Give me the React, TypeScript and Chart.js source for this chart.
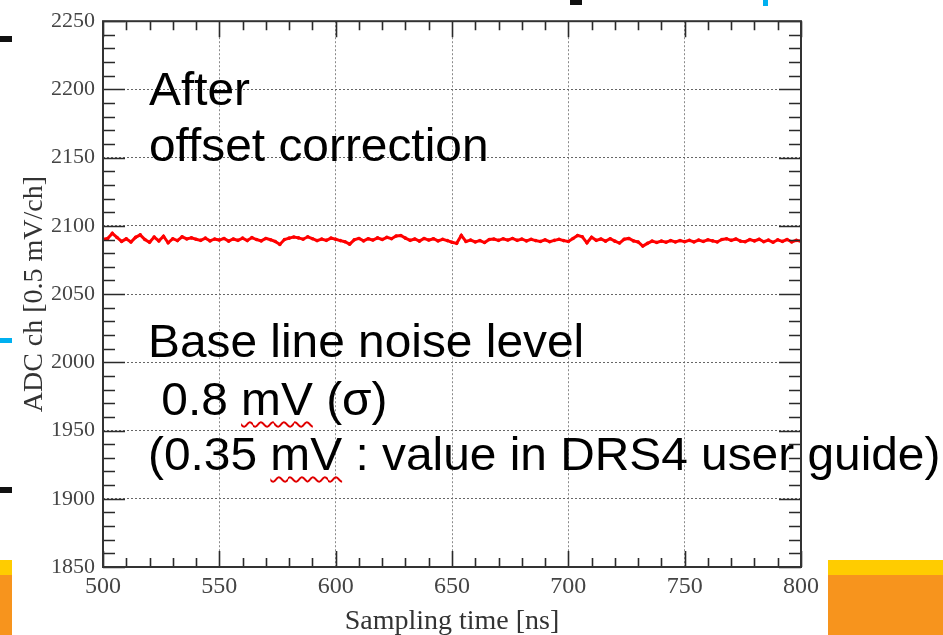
import { useEffect, useRef } from "react";
import { Chart, registerables } from "chart.js";

Chart.register(...registerables);

// Sampling times [ns]
const sampleTimes = [
  500, 502, 504, 506, 508, 510, 512, 514, 516, 518,
  520, 522, 524, 526, 528, 530, 532, 534, 536, 538,
  540, 542, 544, 546, 548, 550, 552, 554, 556, 558,
  560, 562, 564, 566, 568, 570, 572, 574, 576, 578,
  580, 582, 584, 586, 588, 590, 592, 594, 596, 598,
  600, 602, 604, 606, 608, 610, 612, 614, 616, 618,
  620, 622, 624, 626, 628, 630, 632, 634, 636, 638,
  640, 642, 644, 646, 648, 650, 652, 654, 656, 658,
  660, 662, 664, 666, 668, 670, 672, 674, 676, 678,
  680, 682, 684, 686, 688, 690, 692, 694, 696, 698,
  700, 702, 704, 706, 708, 710, 712, 714, 716, 718,
  720, 722, 724, 726, 728, 730, 732, 734, 736, 738,
  740, 742, 744, 746, 748, 750, 752, 754, 756, 758,
  760, 762, 764, 766, 768, 770, 772, 774, 776, 778,
  780, 782, 784, 786, 788, 790, 792, 794, 796, 798,
  800,
];

// ADC values after offset correction
const adcValues = [
  2090.2, 2090.8, 2094.5, 2091.5, 2088.6, 2090.5, 2088.2, 2091.6, 2093.4, 2090.0,
  2088.0, 2091.8, 2089.0, 2092.4, 2087.6, 2090.6, 2089.2, 2092.0, 2090.4, 2091.2,
  2090.2, 2089.4, 2091.0, 2089.0, 2090.4, 2089.6, 2090.8, 2088.8, 2090.4, 2089.4,
  2091.0, 2089.2, 2091.4, 2090.0, 2089.0, 2090.8, 2089.8, 2088.6, 2086.4, 2090.0,
  2091.0, 2091.8, 2091.2, 2090.2, 2092.0, 2090.6, 2089.2, 2090.4, 2089.4, 2091.0,
  2090.2, 2089.2, 2088.4, 2086.6, 2089.8, 2090.8, 2089.0, 2090.6, 2089.6, 2091.2,
  2090.0, 2091.6, 2090.6, 2092.6, 2093.0, 2091.0, 2089.4, 2090.4, 2088.8, 2090.8,
  2089.6, 2090.6, 2089.0, 2090.2, 2089.2, 2088.0, 2087.2, 2093.0, 2088.6, 2089.6,
  2088.2, 2089.2, 2087.8, 2090.0, 2090.4, 2089.4, 2090.6, 2089.6, 2090.8, 2089.4,
  2090.4, 2089.0, 2090.2, 2089.2, 2088.6, 2089.8, 2088.4, 2089.4, 2090.2, 2089.2,
  2088.6, 2090.8, 2093.0, 2092.0, 2087.6, 2091.6, 2089.4, 2090.4, 2088.8, 2090.6,
  2088.8, 2087.4, 2090.2, 2090.8, 2089.0, 2088.2, 2085.2, 2087.2, 2088.8, 2087.8,
  2088.8, 2088.0, 2089.2, 2088.2, 2089.2, 2088.4, 2089.4, 2088.2, 2089.6, 2088.6,
  2089.8, 2089.0, 2088.2, 2090.0, 2090.6, 2089.4, 2090.4, 2088.8, 2088.4, 2090.0,
  2089.0, 2090.2, 2088.4, 2089.6, 2088.0, 2089.8, 2088.6, 2090.0, 2088.2, 2089.4,
  2088.8,
];

const xTickValues = [500, 550, 600, 650, 700, 750, 800];
const yTickValues = [1850, 1900, 1950, 2000, 2050, 2100, 2150, 2200, 2250];
const minorDivisions = 5;

const xTitle = "Sampling time [ns]";
const yTitle = "ADC ch [0.5 mV/ch]";

const noteTopLines = ["After", "offset correction"];
const noteLine1 = "Base line noise level";
const noteLine2 = [" 0.8 ", "mV", " (σ)"];
const noteLine3 = ["(0.35 ", "mV", " : value in DRS4 user guide)"];

const innerTicks = {
  id: "innerTicks",
  afterDraw(chart: any) {
    const { ctx, chartArea } = chart;
    const { left, right, top, bottom } = chartArea;
    const xs = chart.scales.x;
    const ys = chart.scales.y;
    ctx.save();
    ctx.strokeStyle = "#2a2a2a";
    ctx.lineWidth = 1.6;
    const drawX = (v: number, len: number) => {
      const p = Math.round(xs.getPixelForValue(v)) + 0.5;
      ctx.beginPath();
      ctx.moveTo(p, bottom);
      ctx.lineTo(p, bottom - len);
      ctx.moveTo(p, top);
      ctx.lineTo(p, top + len);
      ctx.stroke();
    };
    const drawY = (v: number, len: number) => {
      const p = Math.round(ys.getPixelForValue(v)) + 0.5;
      ctx.beginPath();
      ctx.moveTo(left, p);
      ctx.lineTo(left + len, p);
      ctx.moveTo(right, p);
      ctx.lineTo(right - len, p);
      ctx.stroke();
    };
    for (let i = 0; i < xTickValues.length; i++) {
      drawX(xTickValues[i], 16);
      if (i < xTickValues.length - 1) {
        const step = (xTickValues[i + 1] - xTickValues[i]) / minorDivisions;
        for (let k = 1; k < minorDivisions; k++) drawX(xTickValues[i] + k * step, 9);
      }
    }
    for (let i = 0; i < yTickValues.length; i++) {
      drawY(yTickValues[i], 22);
      if (i < yTickValues.length - 1) {
        const step = (yTickValues[i + 1] - yTickValues[i]) / minorDivisions;
        for (let k = 1; k < minorDivisions; k++) drawY(yTickValues[i] + k * step, 12);
      }
    }
    ctx.lineWidth = 2;
    ctx.strokeStyle = "#333";
    ctx.strokeRect(left, top, right - left, bottom - top);
    ctx.restore();
  },
};

function ChartCanvas() {
  const ref = useRef<HTMLCanvasElement | null>(null);
  useEffect(() => {
    if (!ref.current) return;
    const chart = new Chart(ref.current, {
      type: "line",
      data: {
        datasets: [
          {
            data: sampleTimes.map((t, i) => ({ x: t, y: adcValues[i] })),
            borderColor: "#ff0000",
            backgroundColor: "#ff0000",
            borderWidth: 3,
            pointRadius: 1.8,
            pointBorderWidth: 0,
            tension: 0,
          },
        ],
      },
      options: {
        animation: false,
        responsive: false,
        devicePixelRatio: 1,
        layout: { padding: { top: 15, right: 142, left: 0, bottom: 0 } },
        plugins: { legend: { display: false }, tooltip: { enabled: false } },
        scales: {
          x: {
            type: "linear",
            min: 500,
            max: 800,
            afterFit(scale: any) {
              scale.height = 68;
            },
            afterBuildTicks(scale: any) {
              scale.ticks = xTickValues.map((v) => ({ value: v }));
            },
            ticks: {
              padding: 5,
              maxRotation: 0,
              autoSkip: false,
              color: "#444",
              font: { family: "'Liberation Serif', serif", size: 24 },
              callback: (v: any) => String(v),
            },
            grid: { color: "#8a8a8a", lineWidth: 1, drawTicks: false },
            border: { display: false, dash: [2, 2] },
            title: {
              display: true,
              text: xTitle,
              color: "#333",
              font: { family: "'Liberation Serif', serif", size: 28 },
              padding: { top: 0, bottom: -3 },
            },
          },
          y: {
            type: "linear",
            min: 1850,
            max: 2250,
            afterFit(scale: any) {
              scale.width = 103;
            },
            afterBuildTicks(scale: any) {
              scale.ticks = yTickValues.map((v) => ({ value: v }));
            },
            ticks: {
              padding: 8,
              autoSkip: false,
              color: "#444",
              font: { family: "'Liberation Serif', serif", size: 22 },
              callback: (v: any) => String(v),
            },
            grid: { color: "#666", lineWidth: 1, drawTicks: false },
            border: { display: false, dash: [2, 2] },
            title: {
              display: true,
              text: yTitle,
              color: "#333",
              font: { family: "'Liberation Serif', serif", size: 28 },
              padding: { top: 18, bottom: 0 },
            },
          },
        },
      },
      plugins: [innerTicks],
    } as any);
    return () => chart.destroy();
  }, []);
  return <canvas ref={ref} width={943} height={635} style={{ display: "block", width: 943, height: 635 }} />;
}

const noteFont: React.CSSProperties = {
  position: "absolute",
  fontFamily: "'Liberation Sans', Arial, sans-serif",
  fontSize: 46,
  lineHeight: "46px",
  color: "#000",
  whiteSpace: "pre",
  transform: "scaleX(1.04)",
  transformOrigin: "left top",
};

const squiggle: React.CSSProperties = {
  textDecorationLine: "underline",
  textDecorationStyle: "wavy",
  textDecorationColor: "#e00000",
  textDecorationThickness: "1.5px",
  textUnderlineOffset: "6px",
};

export default function App() {
  return (
    <div style={{ position: "fixed", left: 0, top: 0, width: 943, height: 635, background: "#fff", overflow: "hidden" }}>
      <ChartCanvas />
      {/* slide decorations */}
      <div style={{ position: "absolute", left: 0, top: 36, width: 12, height: 6, background: "#111" }} />
      <div style={{ position: "absolute", left: 0, top: 338, width: 12, height: 5, background: "#00b0f0" }} />
      <div style={{ position: "absolute", left: 0, top: 487, width: 12, height: 6, background: "#111" }} />
      <div style={{ position: "absolute", left: 0, top: 560, width: 12, height: 15, background: "#ffcc00" }} />
      <div style={{ position: "absolute", left: 0, top: 575, width: 12, height: 60, background: "#f7941d" }} />
      <div style={{ position: "absolute", left: 828, top: 560, width: 115, height: 15, background: "#ffcc00" }} />
      <div style={{ position: "absolute", left: 828, top: 575, width: 115, height: 60, background: "#f7941d" }} />
      <div style={{ position: "absolute", left: 570, top: 0, width: 12, height: 5, background: "#111" }} />
      <div style={{ position: "absolute", left: 763, top: 0, width: 5, height: 6, background: "#00b0f0" }} />
      {/* annotations */}
      <div style={{ ...noteFont, left: 149, top: 66 }}>{noteTopLines[0]}</div>
      <div style={{ ...noteFont, left: 149, top: 122 }}>{noteTopLines[1]}</div>
      <div style={{ ...noteFont, left: 148, top: 318 }}>{noteLine1}</div>
      <div style={{ ...noteFont, left: 148, top: 376 }}>
        {noteLine2[0]}
        <span style={squiggle}>{noteLine2[1]}</span>
        {noteLine2[2]}
      </div>
      <div style={{ ...noteFont, left: 148, top: 431 }}>
        {noteLine3[0]}
        <span style={squiggle}>{noteLine3[1]}</span>
        {noteLine3[2]}
      </div>
    </div>
  );
}
